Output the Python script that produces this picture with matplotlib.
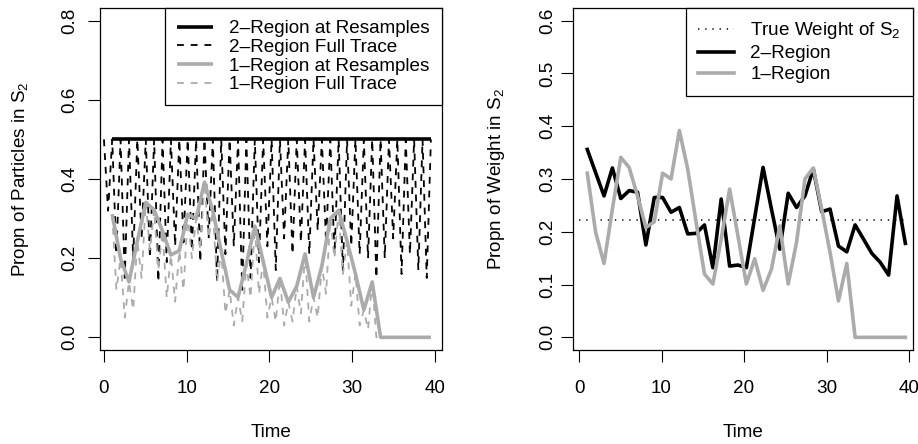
import matplotlib
matplotlib.use("Agg")
import matplotlib.pyplot as plt

plt.rcParams['font.family'] = ['Liberation Sans', 'DejaVu Sans']
plt.rcParams['mathtext.default'] = 'regular'

# times at which the particles were resampled
resample_time = [1.00, 2.01, 3.03, 4.04, 5.06, 6.07, 7.09, 8.10, 9.12, 10.13,
                 11.15, 12.16, 13.17, 14.19, 15.20, 16.22, 17.23, 18.25, 19.26, 20.28,
                 21.29, 22.30, 23.32, 24.33, 25.35, 26.36, 27.38, 28.39, 29.41, 30.42,
                 31.44, 32.45, 33.46, 34.48, 35.49, 36.51, 37.52, 38.54, 39.55]
trace_start = 0.0

# weight of S2 at each resample
weight_2region = [0.356, 0.312, 0.268, 0.321, 0.263, 0.278, 0.275, 0.175, 0.265, 0.265,
                  0.237, 0.246, 0.196, 0.197, 0.213, 0.132, 0.262, 0.135, 0.137, 0.132,
                  0.227, 0.322, 0.243, 0.167, 0.273, 0.246, 0.268, 0.319, 0.238, 0.243,
                  0.173, 0.162, 0.213, 0.186, 0.159, 0.142, 0.118, 0.268, 0.178]
weight_1region = [0.311, 0.199, 0.140, 0.243, 0.341, 0.322, 0.268, 0.208, 0.219, 0.311,
                  0.300, 0.392, 0.319, 0.218, 0.120, 0.101, 0.186, 0.281, 0.192, 0.101,
                  0.149, 0.089, 0.129, 0.211, 0.101, 0.180, 0.300, 0.321, 0.243, 0.161,
                  0.069, 0.140, 0.0, 0.0, 0.0, 0.0, 0.0, 0.0, 0.0]
true_weight = 0.223

# propn of particles in S2 at each resample
prop_2region = [0.5] * len(resample_time)
prop_1region = weight_1region  # 1-region sampler: particle share = weight

# lowest point of the full trace between resamples
trace_low_2region = [0.32, 0.21, 0.15, 0.20, 0.25, 0.20, 0.14, 0.19, 0.23, 0.24,
                     0.22, 0.19, 0.25, 0.14, 0.21, 0.23, 0.12, 0.15, 0.19, 0.23,
                     0.17, 0.25, 0.21, 0.24, 0.21, 0.27, 0.24, 0.21, 0.17, 0.23,
                     0.21, 0.20, 0.15, 0.20, 0.25, 0.16, 0.21, 0.17, 0.15]
trace_low_1region = [0.12, 0.05, 0.07, 0.15, 0.22, 0.17, 0.10, 0.09, 0.12, 0.20,
                     0.22, 0.25, 0.14, 0.06, 0.03, 0.04, 0.10, 0.11, 0.05, 0.04,
                     0.03, 0.04, 0.06, 0.04, 0.05, 0.11, 0.20, 0.16, 0.08, 0.03,
                     0.02, 0.0, 0.0, 0.0, 0.0, 0.0, 0.0, 0.0]


def full_trace(t0, v0, times, after, lows):
    # trace dips between resamples and is reset at each resample
    t, v = [t0], [v0]
    prev = t0
    for tk, ak, lk in zip(times, after, lows):
        t += [(prev + tk) / 2, tk]
        v += [lk, ak]
        prev = tk
    return t, v


grey = '#ABABAB'
fs = 13.6
thick = 2.6
thin = 1.3
dash = (0, (3.8, 3.8))
dot = (0, (0.9, 3.8))

fig = plt.figure(figsize=(9.18, 4.44), dpi=100)
ax1 = fig.add_axes([0.1089, 0.2117, 0.3722, 0.7703])
ax2 = fig.add_axes([0.6242, 0.2117, 0.3704, 0.7703])

# left panel: propn of particles
t2, v2 = full_trace(trace_start, 0.5, resample_time, prop_2region, trace_low_2region)
t1, v1 = full_trace(resample_time[0], prop_1region[0], resample_time[1:],
                    prop_1region[1:], trace_low_1region)
ax1.plot(resample_time, prop_2region, color='black', lw=thick,
         label='2\u2013Region at Resamples', solid_capstyle='butt')
ax1.plot(t2, v2, color='black', lw=thin, linestyle=dash, label='2\u2013Region Full Trace')
ax1.plot(resample_time, prop_1region, color=grey, lw=thick,
         label='1\u2013Region at Resamples', solid_capstyle='butt')
ax1.plot(t1, v1, color=grey, lw=thin, linestyle=dash, label='1\u2013Region Full Trace')
ax1.set_xlim(-0.48, 40.85)
ax1.set_ylim(-0.032, 0.832)
ax1.set_yticks([0.0, 0.2, 0.4, 0.6, 0.8])
ax1.set_ylabel('Propn of Particles in S$_2$', va='center')
ax1.yaxis.set_label_coords(-0.232, 0.5)

# right panel: weight of S2
ax2.plot([trace_start, resample_time[-1]], [true_weight, true_weight], color='black',
         lw=1.1, linestyle=dot, label='True Weight of S$_2$')
ax2.plot(resample_time, weight_2region, color='black', lw=thick, label='2\u2013Region')
ax2.plot(resample_time, weight_1region, color=grey, lw=thick, label='1\u2013Region')
ax2.set_xlim(-0.73, 40.48)
ax2.set_ylim(-0.024, 0.624)
ax2.set_yticks([0.0, 0.1, 0.2, 0.3, 0.4, 0.5, 0.6])
ax2.set_ylabel('Propn of Weight in S$_2$', va='center')
ax2.yaxis.set_label_coords(-0.224, 0.5)

for ax, ypad, spacing in ((ax1, 7, 0.07), (ax2, 3.5, 0.2)):
    ax.set_xticks([0, 10, 20, 30, 40])
    ax.yaxis.set_major_formatter(matplotlib.ticker.FormatStrFormatter('%.1f'))
    ax.set_xlabel('Time', va='center')
    ax.xaxis.set_label_coords(0.5, -0.24)
    ax.xaxis.label.set_size(fs)
    ax.yaxis.label.set_size(fs)
    ax.tick_params(length=8.5, width=0.8, labelsize=fs, direction='out')
    ax.tick_params(axis='x', pad=13)
    ax.tick_params(axis='y', pad=ypad)
    for lab in ax.get_yticklabels():
        lab.set_rotation(90)
        lab.set_va('center')
    for sp in ax.spines.values():
        sp.set_linewidth(0.9)
    leg = ax.legend(loc='upper right', fontsize=fs, frameon=True, fancybox=False,
                    borderaxespad=0, handlelength=1.9, handletextpad=0.85,
                    borderpad=0.65, labelspacing=spacing)
    leg.get_frame().set_edgecolor('black')
    leg.get_frame().set_linewidth(0.9)
    leg.get_frame().set_alpha(1)

fig.savefig('out.png', dpi=100)
